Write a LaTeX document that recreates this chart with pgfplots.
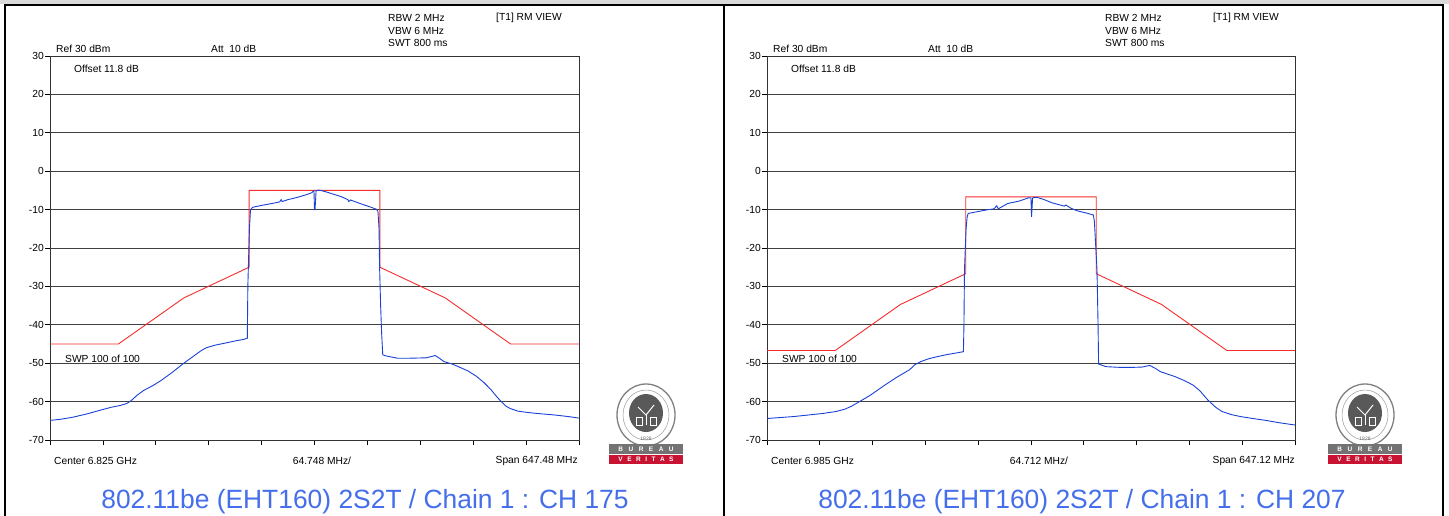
\documentclass[border=0pt]{standalone}
\usepackage{pgfplots}
\pgfplotsset{compat=1.18}
\usepackage{fontspec}
\setmainfont{Liberation Sans}
\definecolor{trace}{RGB}{25,65,215}
\definecolor{maskred}{RGB}{245,45,45}
\definecolor{capblue}{RGB}{68,110,235}
\definecolor{bvred}{RGB}{200,20,50}
\newcommand{\sm}{\fontsize{10.3}{11}\selectfont}
\pgfplotsset{sa/.style={
  scale only axis, width=529bp, height=384bp, anchor=north west,
  xmin=0, xmax=10, ymin=-70, ymax=30,
  xtick={0,1,...,10}, xticklabels={},
  ytick={-70,-60,...,30},
  ymajorgrids, grid style={black!75, line width=0.9bp},
  tick align=outside, tick pos=left,
  major tick length=5bp,
  tick style={black, line width=0.8bp},
  axis line style={black!80, line width=0.9bp},
  yticklabel style={font=\sm, inner sep=1bp},
  /pgf/number format/assume math mode=true,
}}
\newcommand{\bvlogo}[1]{%
  \begin{scope}[shift={(#1bp,-415bp)}]
    \draw[black!50, line width=1.3bp] (0,0) ellipse (29bp and 31bp);
    \draw[black!40, line width=0.5bp] (0,0) ellipse (23bp and 25bp);
    \fill[black!65] (0,2bp) ellipse (17bp and 19bp);
    \draw[white, line width=1bp] (-8bp,8bp) -- (0,0) -- (8bp,10bp);
    \draw[white, line width=1bp] (0,0) -- (0,-10bp);
    \draw[white, line width=0.8bp] (-10bp,-2bp) rectangle (-4bp,-10bp);
    \draw[white, line width=0.8bp] (4bp,-2bp) rectangle (10bp,-10bp);
    \node[font=\fontsize{5}{5}\selectfont, text=black!60, inner sep=0] at (0,-23.5bp) {1828};
  \end{scope}
  \fill[black!55] ({#1bp-37bp},-444bp) rectangle ({#1bp+37bp},-454bp);
  \fill[bvred] ({#1bp-37bp},-455bp) rectangle ({#1bp+37bp},-464bp);
  \node[font=\fontsize{6.5}{7}\selectfont\bfseries, text=white, inner sep=0] at (#1bp,-449bp) {B\hspace{5.5bp}U\hspace{5.5bp}R\hspace{5.5bp}E\hspace{5.5bp}A\hspace{5.5bp}U};
  \node[font=\fontsize{6.5}{7}\selectfont\bfseries, text=white, inner sep=0] at (#1bp,-459.5bp) {V\hspace{4.5bp}E\hspace{4.5bp}R\hspace{4.5bp}I\hspace{4.5bp}T\hspace{4.5bp}A\hspace{4.5bp}S};
}
\begin{document}
\begin{tikzpicture}
\path[use as bounding box, fill=white] (0,0) rectangle (1449bp,-516bp);
\fill[black!15] (0,0) rectangle (1449bp,-4bp);
\draw[black, line width=2bp] (5bp,-516bp) -- (5bp,-5bp) -- (1443bp,-5bp) -- (1443bp,-516bp);
\draw[black, line width=2bp] (724bp,-5bp) -- (724bp,-516bp);

% ---------------- left panel ----------------
\begin{axis}[sa, at={(50bp,-56bp)}]
\addplot[maskred, line width=0.9bp] coordinates {
(0,-45) (1.293,-45) (2.529,-33) (3.764,-25) (3.764,-5) (6.236,-5) (6.236,-25) (7.471,-33) (8.707,-45) (10,-45)};
\addplot[trace, line width=0.9bp] coordinates {
(0,-64.9) (0.2,-64.6) (0.42,-64.1) (0.7,-63.2) (0.96,-62.2) (1.15,-61.5) (1.33,-61.0) (1.45,-60.5)
(1.53,-59.8) (1.65,-58.3) (1.77,-57.1) (1.95,-55.8) (2.11,-54.4) (2.3,-52.5) (2.52,-50.1) (2.7,-48.3)
(2.85,-46.8) (2.95,-46.0) (3.12,-45.3) (3.3,-44.8) (3.5,-44.2) (3.66,-43.8) (3.73,-43.5) (3.74,-30)
(3.75,-24.8) (3.77,-15) (3.79,-10.1) (3.83,-9.4) (4.0,-8.9) (4.2,-8.4) (4.34,-8.0) (4.37,-7.4) (4.39,-7.9)
(4.5,-7.4) (4.68,-6.8) (4.85,-6.1) (4.95,-5.6) (4.98,-5.2) (4.99,-5.1) (5.00,-10.0) (5.01,-10.0)
(5.03,-5.1) (5.08,-4.9) (5.2,-5.3) (5.36,-6.0) (5.5,-6.6) (5.63,-7.4) (5.65,-7.9) (5.68,-7.5)
(5.9,-8.6) (6.05,-9.3) (6.17,-9.9) (6.2,-10.5) (6.22,-15) (6.23,-24.8) (6.25,-35) (6.27,-42.5)
(6.29,-47.8) (6.35,-48.1) (6.57,-48.7) (6.8,-48.7) (7.11,-48.6) (7.2,-48.3) (7.28,-48.0) (7.35,-48.6)
(7.45,-49.6) (7.6,-50.2) (7.72,-50.9) (7.9,-52.0) (8.06,-53.4) (8.2,-55.0) (8.33,-56.8) (8.45,-58.8)
(8.53,-60.0) (8.62,-61.2) (8.70,-61.8) (8.85,-62.5) (9.07,-62.9) (9.3,-63.2) (9.55,-63.5) (9.8,-63.9) (10,-64.3)};
\end{axis}

% ---------------- right panel ----------------
\begin{axis}[sa, width=528bp, at={(767bp,-56bp)}]
\addplot[maskred, line width=0.9bp] coordinates {
(0,-46.7) (1.291,-46.7) (2.528,-34.7) (3.764,-26.7) (3.764,-6.7) (6.236,-6.7) (6.236,-26.7) (7.472,-34.7) (8.709,-46.7) (10,-46.7)};
\addplot[trace, line width=0.9bp] coordinates {
(0,-64.4) (0.5,-63.9) (1.05,-63.1) (1.3,-62.6) (1.47,-62.0) (1.6,-61.2) (1.74,-60.1) (1.95,-58.4)
(2.2,-56.0) (2.43,-53.9) (2.6,-52.5) (2.7,-51.7) (2.8,-50.4) (2.91,-49.6) (3.05,-48.9) (3.19,-48.4)
(3.39,-47.8) (3.6,-47.3) (3.72,-47.0) (3.73,-40) (3.74,-25.7) (3.77,-15) (3.79,-12) (3.81,-11.0)
(4.0,-10.5) (4.15,-10.1) (4.3,-9.8) (4.35,-9.0) (4.38,-9.8) (4.56,-8.4) (4.77,-7.8) (4.9,-7.2)
(4.96,-6.9) (5.0,-7.0) (5.01,-11.9) (5.03,-7.0) (5.06,-6.8) (5.11,-6.8) (5.25,-7.4) (5.39,-8.2)
(5.55,-8.8) (5.63,-9.1) (5.66,-8.8) (5.75,-9.6) (5.87,-10.3) (6.05,-10.9) (6.18,-11.4) (6.2,-13)
(6.21,-15.5) (6.25,-25.7) (6.27,-40) (6.28,-50.2) (6.42,-50.9) (6.7,-51.1) (6.9,-51.1) (7.11,-51.0)
(7.2,-50.7) (7.25,-50.6) (7.35,-51.3) (7.45,-52.2) (7.6,-52.9) (7.73,-53.5) (7.9,-54.5) (8.07,-55.7)
(8.2,-57.2) (8.35,-59.6) (8.5,-61.5) (8.62,-62.6) (8.8,-63.4) (8.97,-63.9) (9.2,-64.4) (9.45,-64.9)
(9.7,-65.5) (10,-66.1)};
\end{axis}

% ---------------- header / footer texts ----------------
\foreach \dx/\ctr/\freq/\div/\span/\ch in {0/365/6.825/64.748/647.48/175, 717/1082/6.985/64.712/647.12/207}{
  \begin{scope}[xshift=\dx bp, every node/.style={font=\sm, inner sep=0, anchor=west}]
    \node at (388bp,-18bp) {RBW 2 MHz};
    \node at (388bp,-30.5bp) {VBW 6 MHz};
    \node at (388bp,-43bp) {SWT 800 ms};
    \node at (496bp,-18bp) {[T1] RM VIEW};
    \node at (56bp,-49bp) {Ref 30 dBm};
    \node at (211bp,-49bp) {Att\ \ 10 dB};
    \node at (74bp,-69bp) {Offset 11.8 dB};
    \node at (65bp,-359bp) {SWP 100 of 100};
    \node at (54bp,-461bp) {Center \freq\ GHz};
    \node[anchor=center] at (322bp,-461bp) {\div\ MHz/};
    \node[anchor=east] at (578bp,-461bp) {Span \span\ MHz};
  \end{scope}
  \node[font=\fontsize{26.5}{30}\selectfont, text=capblue, anchor=base, inner sep=0] at (\ctr bp,-508bp) {802.11be (EHT160) 2S2T / Chain 1 : CH \ch};
}
\bvlogo{646}
\bvlogo{1365}
\end{tikzpicture}
\end{document}
